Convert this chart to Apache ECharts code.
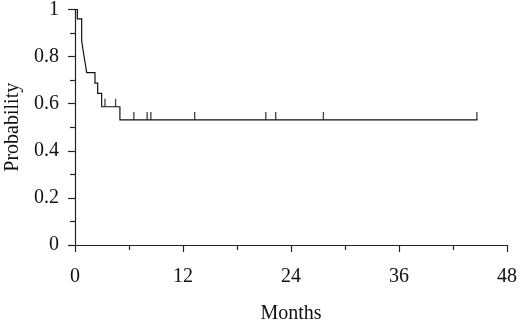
<!DOCTYPE html>
<html>
<head>
<meta charset="utf-8">
<script src="https://cdn.jsdelivr.net/npm/echarts@6/dist/echarts.min.js"></script>
<style>html,body{margin:0;padding:0;background:#fff;}#c{width:520px;height:322px;}</style>
</head>
<body>
<div id="c"></div>
<script>
// Kaplan-Meier step points (months, probability)
const months = [0, 0.26, 0.74, 0.92, 1.11, 1.30, 2.22, 2.52, 2.96, 4.99, 44.65];
const survival = [1.0, 0.960, 0.868, 0.821, 0.777, 0.732, 0.687, 0.644, 0.587, 0.531, 0.531];
// Censored observations
const censorMonths = [3.33, 4.51, 6.54, 8.02, 8.43, 13.3, 21.2, 22.3, 27.6, 44.65];
const censorSurvival = [0.587, 0.587, 0.531, 0.531, 0.531, 0.531, 0.531, 0.531, 0.531, 0.531];
const xTickLabels = [0, 12, 24, 36, 48];
const yTickLabels = [0, 0.2, 0.4, 0.6, 0.8, 1];

const font = "'Liberation Serif', 'DejaVu Serif', serif";
const chart = echarts.init(document.getElementById('c'), null, {renderer: 'canvas'});
chart.setOption({
  animation: false,
  backgroundColor: '#fff',
  grid: {left: 75, right: 13, top: 9.5, bottom: 77, containLabel: false, outerBoundsMode: 'none'},
  xAxis: {
    type: 'value', min: xTickLabels[0], max: xTickLabels[xTickLabels.length - 1], interval: 12,
    name: 'Months', nameLocation: 'middle', nameGap: 59,
    nameTextStyle: {fontFamily: font, fontSize: 20, color: '#111'},
    axisLine: {show: true, onZero: false, lineStyle: {color: '#222', width: 1.2}},
    axisTick: {show: true, inside: false, length: 7, lineStyle: {color: '#222', width: 1.2}},
    minorTick: {show: true, splitNumber: 2, length: 5, lineStyle: {color: '#222', width: 1.2}},
    splitLine: {show: false},
    axisLabel: {fontFamily: font, fontSize: 20, color: '#111', margin: 22,
      formatter: v => xTickLabels.includes(v) ? String(v) : ''}
  },
  yAxis: {
    type: 'value', min: 0, max: 1, interval: 0.2,
    name: 'Probability', nameLocation: 'middle', nameGap: 52, nameRotate: 90,
    nameTextStyle: {fontFamily: font, fontSize: 20, color: '#111'},
    axisLine: {show: true, lineStyle: {color: '#222', width: 1.2}},
    axisTick: {show: true, length: 7, lineStyle: {color: '#222', width: 1.2}},
    minorTick: {show: true, splitNumber: 2, length: 5, lineStyle: {color: '#222', width: 1.2}},
    splitLine: {show: false},
    axisLabel: {fontFamily: font, fontSize: 20, color: '#111', margin: 16,
      formatter: v => {
        const r = Math.round(v * 10) / 10;
        return yTickLabels.includes(r) ? String(r) : '';
      }}
  },
  series: [
    {
      type: 'line', step: 'end', symbol: 'none', smooth: false,
      data: months.map((m, i) => [m, survival[i]]),
      lineStyle: {color: '#111', width: 1.2, cap: 'square', join: 'miter'},
      z: 3
    },
    {
      type: 'scatter',
      data: censorMonths.map((m, i) => [m, censorSurvival[i]]),
      symbol: 'rect', symbolSize: [1.3, 8], symbolOffset: [0, '-50%'],
      itemStyle: {color: '#111'},
      z: 4
    }
  ]
});
</script>
</body>
</html>
